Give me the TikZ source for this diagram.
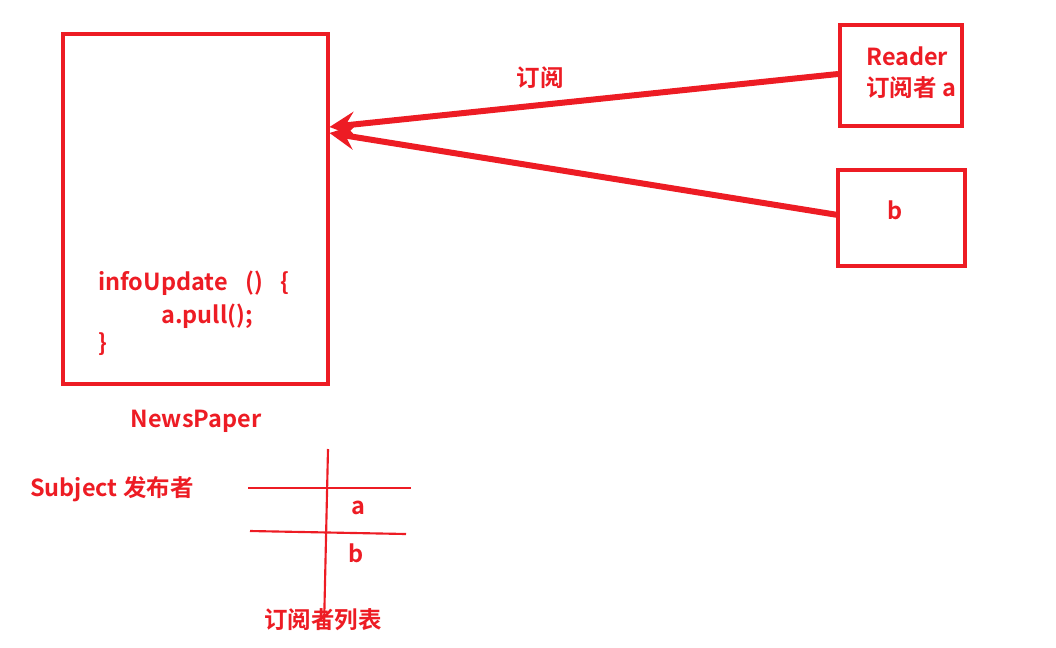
\documentclass[tikz,border=0pt]{standalone}
\usepackage{fontspec}
\setmainfont{Noto Sans CJK SC}[BoldFont={Noto Sans CJK SC Bold}]
\usetikzlibrary{arrows.meta}
\definecolor{pen}{RGB}{237,28,36}
\begin{document}
\begin{tikzpicture}[x=0.75pt,y=-0.75pt,
  box/.style={draw=pen,line width=2.3pt,inner sep=0pt},
  lbl/.style={text=pen,font=\bfseries\fontsize{17.6}{20}\selectfont,inner sep=0pt},
  thick arrow/.style={draw=pen,line width=4.5pt,-{Stealth[length=19pt,width=19pt,inset=7pt]}},
  thin line/.style={draw=pen,line width=1.6pt}]
\useasboundingbox (0,0) rectangle (1056,647);
% boxes
\node[box,minimum width=198.75pt,minimum height=262.5pt] (paper) at (195.5,209) {};
\node[box,minimum width=91.5pt,minimum height=75.75pt] (reader) at (901,75.5) {};
\node[box,minimum width=95.25pt,minimum height=72pt] (bbox) at (901.5,218) {};
% texts
\node[lbl,anchor=west] (rname) at (866,56) {Reader};
\node[lbl,anchor=west] (rsub) at (866,88) {订阅者 a};
\node[lbl] (bname) at (895,210) {b};
\node[lbl] (sub) at (540,78) {订阅};
\node[lbl,anchor=west] (c1) at (98,283) {infoUpdate\hspace{0.75em}()\hspace{0.75em}\{};
\node[lbl,anchor=west] (c2) at (161,316) {a.pull();};
\node[lbl,anchor=west] (c3) at (98,344) {\}};
\node[lbl] (np) at (196,421) {NewsPaper};
\node[lbl,anchor=west] (subj) at (30,489) {Subject 发布者};
% arrows
\coordinate (a1s) at (838,74);
\coordinate (a2s) at (838,215);
\draw[thick arrow] (a1s) -- (paper.east |- 0,127);
\draw[thick arrow] (a2s) -- (paper.east |- 0,133);
% table
\coordinate (vt) at (328,449);
\coordinate (vb) at (324,628);
\coordinate (h1l) at (248,488);
\coordinate (h1r) at (411,488);
\coordinate (h2l) at (250,531);
\coordinate (h2r) at (406,534);
\draw[thin line] (vt) -- (vb);
\draw[thin line] (h1l) -- (h1r);
\draw[thin line] (h2l) -- (h2r);
\node[lbl] (ta) at (358,508) {a};
\node[lbl] (tb) at (356,553) {b};
\node[lbl] (list) at (323,620) {订阅者列表};
\end{tikzpicture}
\end{document}
